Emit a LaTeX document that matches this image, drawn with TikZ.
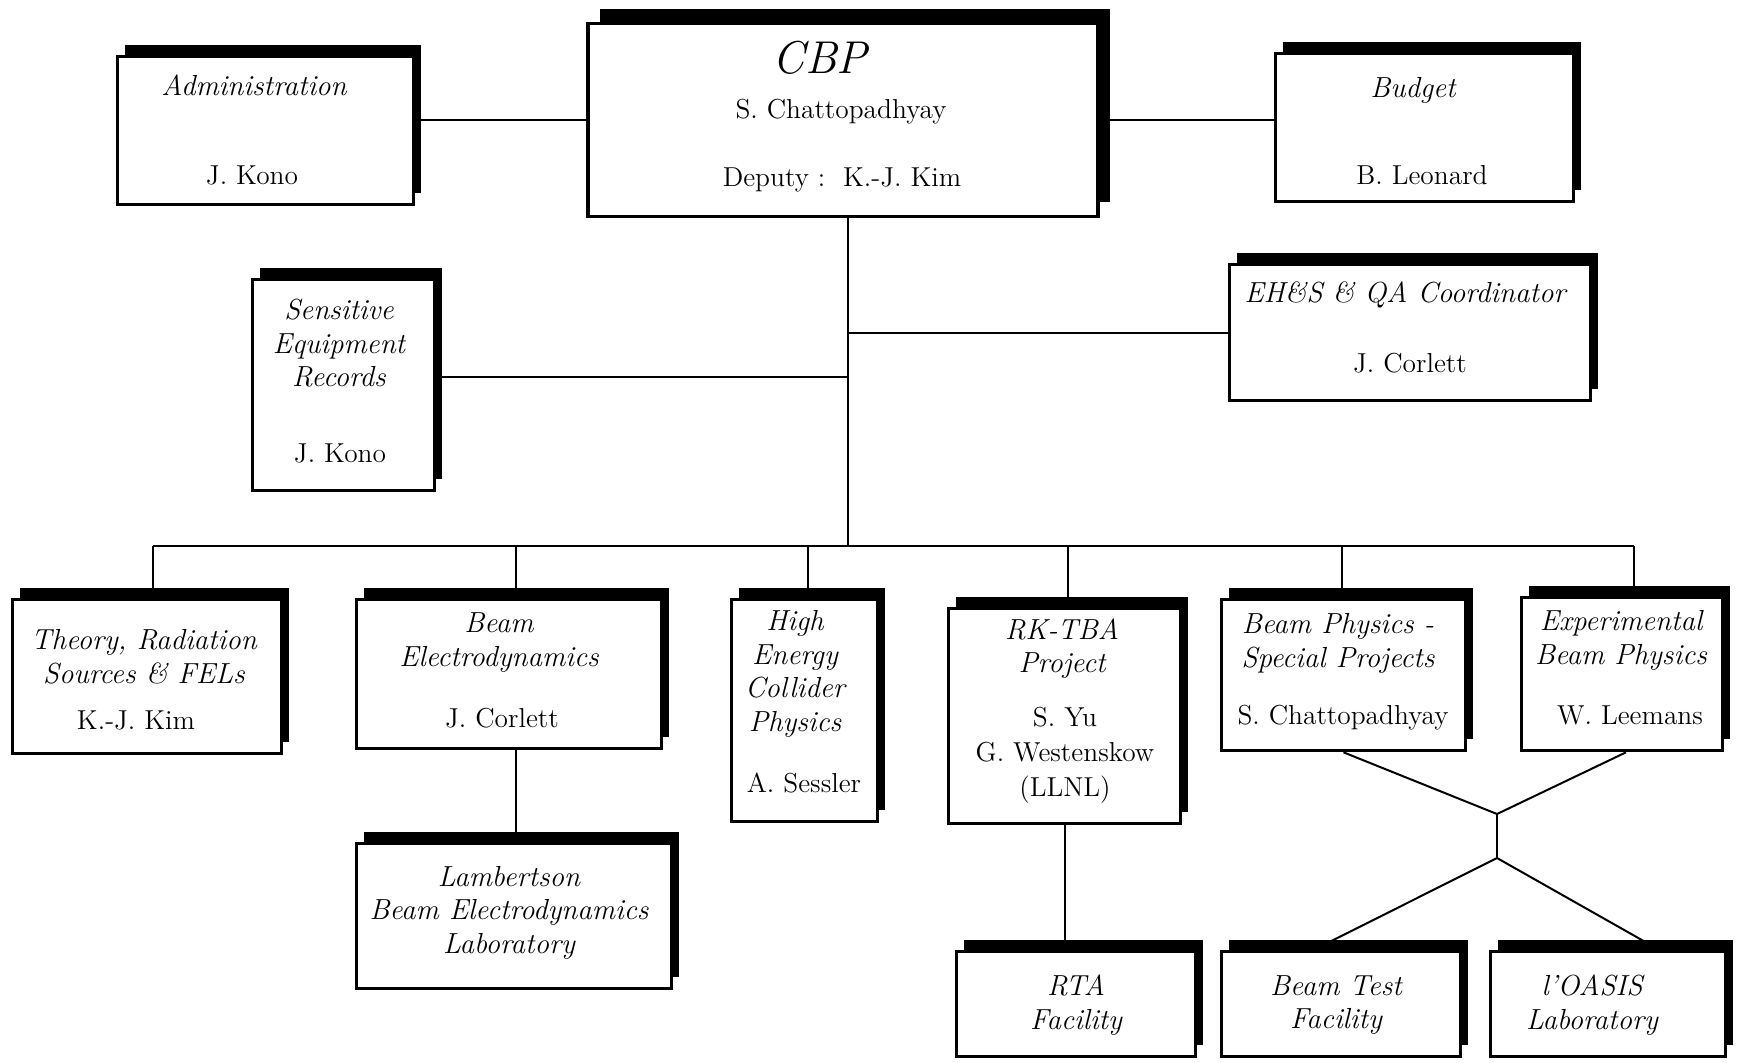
\documentclass[tikz,border=0pt]{standalone}
\usetikzlibrary{shadows}
\begin{document}
\begin{tikzpicture}[
            x=0.5pt, y=-0.5pt,
            box/.style={draw, line width=1.8pt, fill=white, inner sep=0pt,
                general shadow={fill=black, shadow xshift=3.5pt, shadow yshift=6pt}},
            bigbox/.style={draw, line width=1.8pt, fill=white, inner sep=0pt,
                general shadow={fill=black, shadow xshift=6pt, shadow yshift=7.5pt}},
            ttl/.style={font=\fontsize{14.5}{16.75}\selectfont\itshape, align=center, inner sep=0pt},
            nm/.style={font=\fontsize{13.7}{17.5}\selectfont, align=center, inner sep=0pt},
            conn/.style={line width=1pt}
        ]
        \useasboundingbox (0,0) rectangle (1739,1062);
        % boxes
        \node[bigbox, minimum width=255pt, minimum height=96.5pt] (cbp) at (843,120) {};
        \node[box, minimum width=148pt, minimum height=74pt] (adm) at (265.5,130.5) {};
        \node[box, minimum width=149pt, minimum height=74pt] (bud) at (1424.5,127.5) {};
        \node[box, minimum width=180.5pt, minimum height=68pt] (ehs) at (1410,332.5) {};
        \node[box, minimum width=91pt, minimum height=105.5pt] (sens) at (343.5,385) {};
        \node[box, minimum width=134.5pt, minimum height=77pt] (theo) at (147,676.5) {};
        \node[box, minimum width=152.5pt, minimum height=74.5pt] (bel) at (509,674) {};
        \node[box, minimum width=73pt, minimum height=111pt] (hec) at (804.5,710.5) {};
        \node[box, minimum width=116pt, minimum height=107.5pt] (rk) at (1064.5,716) {};
        \node[box, minimum width=122pt, minimum height=75.5pt] (bps) at (1343.5,675) {};
        \node[box, minimum width=100.5pt, minimum height=76.5pt] (ebp) at (1622,674) {};
        \node[box, minimum width=157.5pt, minimum height=72.5pt] (lam) at (514,916) {};
        \node[box, minimum width=119.5pt, minimum height=52.5pt] (rta) at (1076,1004) {};
        \node[box, minimum width=119.5pt, minimum height=52.5pt] (btf) at (1341,1004) {};
        \node[box, minimum width=117.5pt, minimum height=52.5pt] (oas) at (1608,1004) {};
        % texts
        \node[ttl, font=\fontsize{23}{26}\selectfont\itshape] (cbp-t) at (820,58) {CBP};
        \node[nm] (cbp-n) at (841,112) {S. Chattopadhyay};
        \node[nm] (cbp-d) at (842,180) {Deputy :~~K.-J. Kim};
        \node[ttl] (adm-t) at (254,85) {Administration};
        \node[nm] (adm-n) at (252,175) {J. Kono};
        \node[ttl] (bud-t) at (1413,90) {Budget};
        \node[nm] (bud-n) at (1422,175) {B. Leonard};
        \node[ttl] (ehs-t) at (1405,295) {EH\&S \& QA Coordinator};
        \node[nm] (ehs-n) at (1410,363) {J. Corlett};
        \node[ttl] (sens-t) at (339,343.5) {Sensitive\\Equipment\\Records};
        \node[nm] (sens-n) at (340,453) {J. Kono};
        \node[ttl] (theo-t) at (144,656.5) {Theory, Radiation\\Sources \& FELs};
        \node[nm] (theo-n) at (136,720) {K.-J. Kim};
        \node[ttl] (bel-t) at (499,642.5) {Beam\\Electrodynamics};
        \node[nm] (bel-n) at (502,718) {J. Corlett};
        \node[ttl] (hec-t) at (795,674) {High\\Energy\\Collider\\Physics};
        \node[nm] (hec-n) at (804,783) {A. Sessler};
        \node[ttl] (rk-t) at (1062,648.5) {RK-TBA\\Project};
        \node[nm] (rk-n) at (1065,755) {S. Yu\\G. Westenskow\\(LLNL)};
        \node[ttl] (bps-t) at (1338,643.5) {Beam Physics -\\Special Projects};
        \node[nm] (bps-n) at (1343,718) {S. Chattopadhyay};
        \node[ttl] (ebp-t) at (1621,640.5) {Experimental\\Beam Physics};
        \node[nm] (ebp-n) at (1630,715) {W. Leemans};
        \node[ttl] (lam-t) at (509,912.5) {Lambertson\\Beam Electrodynamics\\Laboratory};
        \node[ttl] (rta-t) at (1076,1005) {RTA\\Facility};
        \node[ttl] (btf-t) at (1336,1005) {Beam Test\\Facility};
        \node[ttl] (oas-t) at (1592,1005) {l'OASIS\\Laboratory};
        % connectors
        \coordinate (hub) at (848,546);
        \coordinate (xt) at (1497,814);
        \coordinate (xb) at (1497,858);
        \draw[conn] (cbp.west) -- (cbp.west -| adm.east);
        \draw[conn] (cbp.east) -- (cbp.east -| bud.west);
        \draw[conn] (hub |- cbp.south) -- (hub);
        \draw[conn] (ehs.west) -- (ehs.west -| hub);
        \draw[conn] ([yshift=4pt]sens.east) -- ([yshift=4pt]sens.east -| hub);
        \draw[conn] ([xshift=3pt]theo.north |- hub) -- ([xshift=6pt]ebp.north |- hub);
        \foreach \b/\s in {theo/3pt, bel/3.5pt, hec/1.5pt, rk/1.5pt, bps/-1pt, ebp/6pt}
            \draw[conn] ([xshift=\s]\b.north) -- ([xshift=\s]\b.north |- hub);
        \draw[conn] ([xshift=3.5pt]bel.south) -- ([xshift=3.5pt]bel.south |- lam.north);
        \draw[conn] (rk.south) -- (rk.south |- rta.north);
        \draw[conn] (bps.south) -- (xt) -- ([xshift=2pt]ebp.south);
        \draw[conn] (xt) -- (xb);
        \draw[conn] ([xshift=-13.5pt]btf.north) -- (xb) -- ([xshift=25.5pt]oas.north);
    \end{tikzpicture}
\end{document}
